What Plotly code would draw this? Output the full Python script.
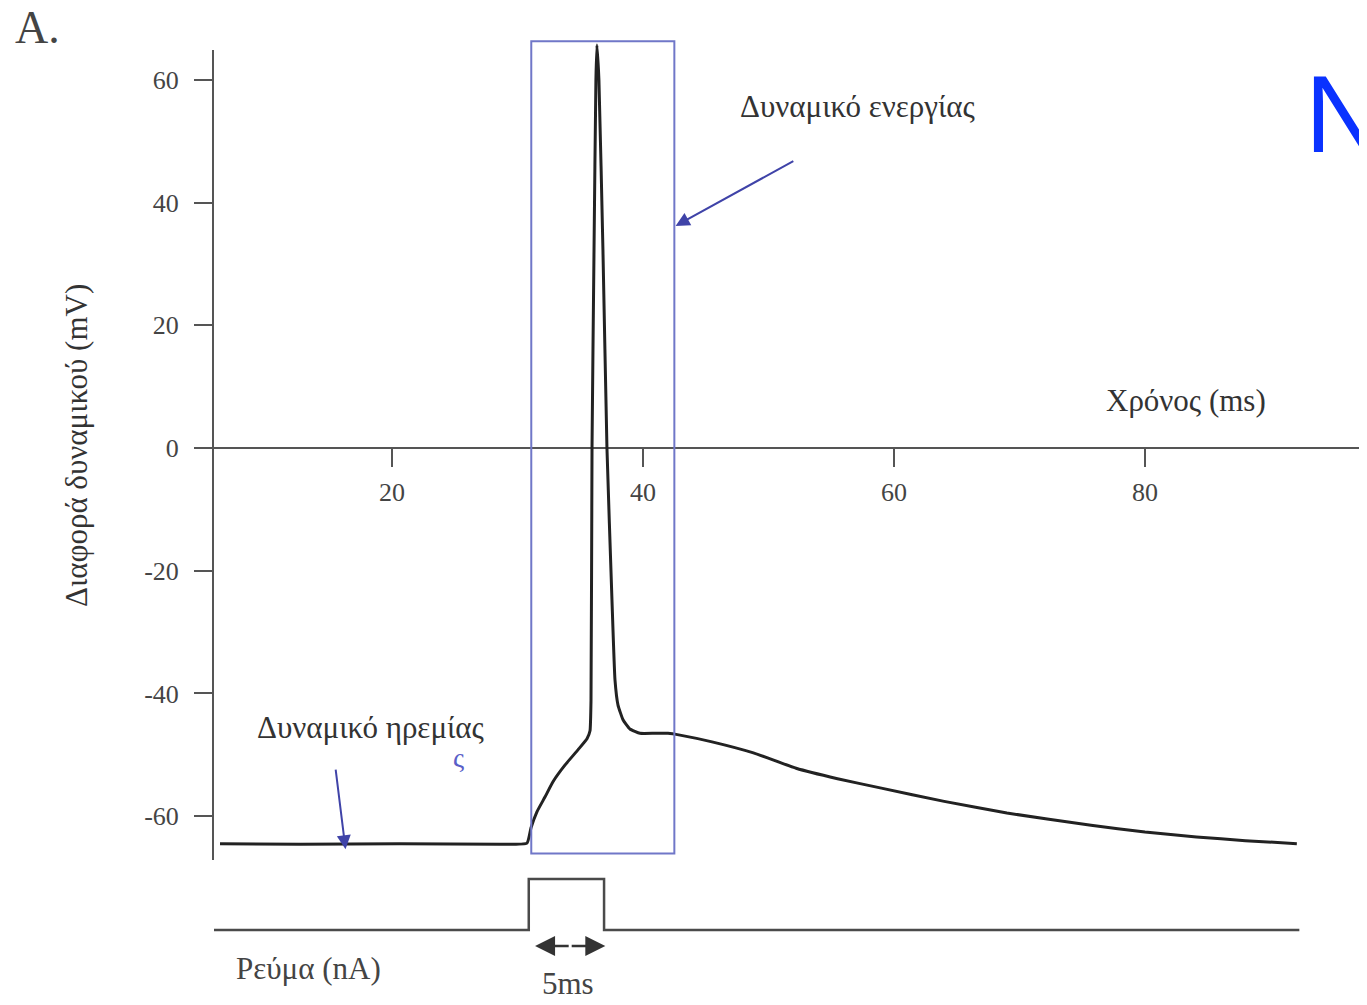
import plotly.graph_objects as go

# ---- data ----
time_ms = [6.3, 12.7, 20.6, 28.6, 30.76, 31.08, 31.55, 32.19, 32.83, 33.78, 34.82, 35.54,
           35.78, 35.86, 35.94, 36.10, 36.25, 36.33, 36.49, 36.81, 37.13, 37.53, 37.77,
           38.01, 38.41, 38.96, 39.76, 40.96, 42.0, 42.95, 45.5, 48.8, 52.2, 55.5, 58.9,
           64.0, 69.0, 75.7, 80.0, 84.1, 88.0, 92.1]
voltage_mv = [-64.5, -64.6, -64.5, -64.6, -64.4, -61.9, -59.3, -56.9, -54.4, -51.7, -49.2, -47.4,
              -46.1, -41.1, 0.0, 32.3, 60.0, 65.7, 60.0, 32.3, 0.0, -24.8, -37.8,
              -41.9, -44.3, -45.8, -46.5, -46.5, -46.5, -46.8, -47.9, -49.7, -52.2, -53.9, -55.4,
              -57.6, -59.5, -61.5, -62.6, -63.4, -64.0, -64.5]

current_t = [5.8, 30.9, 30.9, 36.9, 36.9, 92.3]
current_na = [0, 0, 1, 1, 0, 0]

y_ticks = [-60, -40, -20, 0, 20, 40, 60]
y_ticktext = ["-60", "-40", "-20", "0", "20", "40", "60"]
x_ticks = [20, 40, 60, 80]

box_t = [31.1, 42.5]
box_v = [-66.1, 66.3]
stim_arrow_t = [31.4, 37.0]

# ---- layout geometry (page has an 8px body margin) ----
OFF = 8
W, H = 1367 - OFF, 1005 - OFF

def fx(px):
    return (px - OFF) / W

def fy(py):
    return 1 - (py - OFF) / H

PX_PER_MV = 6.135
ZERO_PX = 448
x_range = [5.82, 97.69]
y_axis_range = [-67.2, 64.9]          # visible axis line extent
y_data_range = [-67.2, 67.5]          # same scale, room for the spike and box
def mv_to_px(v):
    return ZERO_PX - v * PX_PER_MV
y_dom = [fy(mv_to_px(y_axis_range[0])), fy(mv_to_px(y_axis_range[1]))]
y3_dom = [fy(mv_to_px(y_data_range[0])), fy(mv_to_px(y_data_range[1]))]
y2_range = [-0.196, 1.176]
y2_dom = [fy(940), fy(870)]
zero_pos = y_dom[0] + (0 - y_axis_range[0]) / (y_axis_range[1] - y_axis_range[0]) * (y_dom[1] - y_dom[0])

SERIF = "Liberation Serif"
fig = go.Figure()

# empty trace so the visible voltage axis gets drawn
fig.add_trace(go.Scatter(x=[], y=[], xaxis="x", yaxis="y", showlegend=False,
                         hoverinfo="skip"))
fig.add_trace(go.Scatter(x=time_ms, y=voltage_mv, mode="lines",
                         line=dict(color="#222222", width=3, shape="spline", smoothing=0.4),
                         xaxis="x", yaxis="y3", showlegend=False, hoverinfo="skip"))
fig.add_trace(go.Scatter(x=current_t, y=current_na, mode="lines",
                         line=dict(color="#4a4a4a", width=2.5),
                         xaxis="x2", yaxis="y2", showlegend=False, hoverinfo="skip"))

fig.add_shape(type="rect", xref="x", yref="y3", x0=box_t[0], x1=box_t[1],
              y0=box_v[0], y1=box_v[1], line=dict(color="#7077c8", width=2))

tickfont = dict(family=SERIF, size=26, color="#444444")
fig.update_layout(
    width=W, height=H,
    margin=dict(l=0, r=0, t=0, b=0),
    paper_bgcolor="white", plot_bgcolor="rgba(0,0,0,0)",
    font=dict(family=SERIF, color="#333333"),
    xaxis=dict(domain=[fx(214), 1], range=x_range, anchor="free", position=zero_pos,
               showline=True, linecolor="#555555", linewidth=2,
               tickmode="array", tickvals=x_ticks, ticks="outside", ticklen=18,
               tickwidth=2, tickcolor="#555555", showgrid=False, zeroline=False,
               tickfont=tickfont, ticklabelstandoff=3),
    yaxis=dict(domain=y_dom, range=y_axis_range, anchor="x", showline=True,
               linecolor="#555555", linewidth=2, tickmode="array", tickvals=y_ticks,
               ticktext=y_ticktext, ticks="outside", ticklen=18, tickwidth=2,
               tickcolor="#555555", showgrid=False, zeroline=False,
               tickfont=tickfont, ticklabelstandoff=10),
    yaxis3=dict(domain=y3_dom, range=y_data_range, anchor="x", visible=False),
    xaxis2=dict(domain=[fx(214), 1], range=x_range, anchor="y2", matches="x",
                visible=False),
    yaxis2=dict(domain=y2_dom, range=y2_range, anchor="x2", visible=False),
)

ann = []
txt_font = dict(family=SERIF, size=31, color="#333333")
ann.append(dict(text="Δυναμικό ενεργίας", x=57.1, y=55.7, xref="x", yref="y3",
                showarrow=False, font=txt_font))
ann.append(dict(text="", x=42.6, y=36.2, ax=52.1, ay=46.9, xref="x", yref="y3",
                axref="x", ayref="y3", showarrow=True, arrowhead=2, arrowsize=1.4,
                arrowwidth=2, arrowcolor="#3f43a8"))
ann.append(dict(text="Δυναμικό ηρεμίας", x=18.3, y=-45.6, xref="x", yref="y3",
                showarrow=False, font=txt_font))
ann.append(dict(text="ς", x=25.3, y=-50.4, xref="x", yref="y3", showarrow=False,
                font=dict(family=SERIF, size=28, color="#5a5fc8")))
ann.append(dict(text="", x=16.3, y=-65.4, ax=15.5, ay=-52.2, xref="x", yref="y3",
                axref="x", ayref="y3", showarrow=True, arrowhead=2, arrowsize=1.4,
                arrowwidth=2, arrowcolor="#3f43a8"))
ann.append(dict(text="Χρόνος (ms)", x=83.3, y=7.7, xref="x", yref="y3",
                showarrow=False, font=txt_font))
ann.append(dict(text="Διαφορά δυναμικού (mV)", x=fx(76), y=fy(446), xref="paper",
                yref="paper", xanchor="center", yanchor="middle", textangle=-90,
                showarrow=False, font=dict(family=SERIF, size=31, color="#333333")))
ann.append(dict(text="Α.", x=fx(37), y=fy(28), xref="paper", yref="paper",
                xanchor="center", yanchor="middle", showarrow=False,
                font=dict(family=SERIF, size=46, color="#444444")))
ann.append(dict(text="Ρεύμα (nA)", x=fx(308), y=fy(968), xref="paper", yref="paper",
                xanchor="center", yanchor="middle", showarrow=False,
                font=dict(family=SERIF, size=31, color="#444444")))
ann.append(dict(text="5ms", x=fx(568), y=fy(983), xref="paper", yref="paper",
                xanchor="center", yanchor="middle", showarrow=False,
                font=dict(family=SERIF, size=31, color="#444444")))
mid = (stim_arrow_t[0] + stim_arrow_t[1]) / 2
for head in stim_arrow_t:
    ann.append(dict(text="", x=head, y=fy(946), ax=mid, ay=0, xref="x2", yref="paper",
                    axref="x2", ayref="pixel", showarrow=True, arrowhead=2, arrowsize=1.6,
                    arrowwidth=2.5, arrowcolor="#333333"))
ann.append(dict(text="N", x=fx(1303), y=fy(114), xref="paper", yref="paper",
                xanchor="left", yanchor="middle", showarrow=False,
                font=dict(family="Liberation Sans", size=109, color="#0a32ff")))
fig.update_layout(annotations=ann)

fig.write_html("out.html")
